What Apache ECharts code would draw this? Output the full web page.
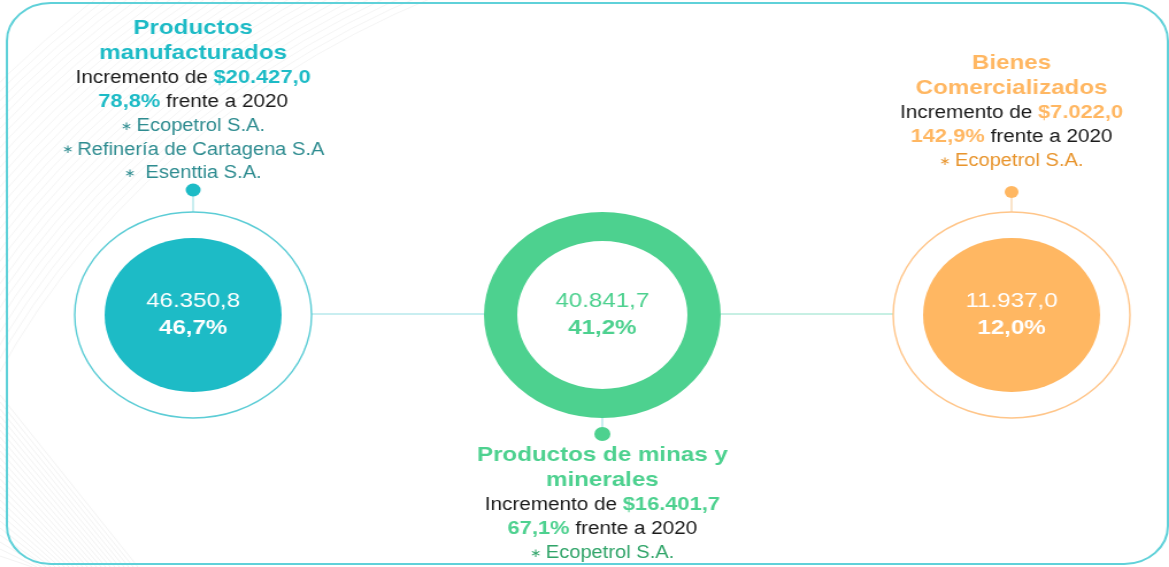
<!DOCTYPE html>
<html>
<head>
<meta charset="utf-8">
<script src="https://cdn.jsdelivr.net/npm/echarts@6/dist/echarts.min.js"></script>
<style>
  html, body { margin: 0; padding: 0; background: #fff; overflow: hidden; }
  #main {
    position: absolute; left: 0; top: 0;
    width: 1017px; height: 567px;
    /* la lámina original viene estirada en horizontal */
    transform: scaleX(1.1495);
    transform-origin: 0 0;
  }
</style>
</head>
<body>
<div id="main"></div>
<script>
// datos
const categories = ['Productos manufacturados', 'Productos de minas y minerales', 'Bienes Comercializados'];
const titleLines = [['Productos', 'manufacturados'], ['Productos de minas y', 'minerales'], ['Bienes', 'Comercializados']];
const values = [46350.8, 40841.7, 11937.0];
const shares = [46.7, 41.2, 12.0];
const increments = [20427.0, 16401.7, 7022.0];
const growth = [78.8, 67.1, 142.9];
const companies = [
  ['Ecopetrol S.A.', 'Refinería de Cartagena S.A', ' Esenttia S.A.'],
  ['Ecopetrol S.A.'],
  ['Ecopetrol S.A.']
];

// estilos / layout
const mainColors = ['#1dbbc6', '#4dd18f', '#ffb762'];
const companyColors = ['#2e8c90', '#2fa468', '#e8942c'];
const outlineColors = ['#5ccdd6', '#4dd18f', '#ffc68a'];
const centersX = [168, 524, 880];
const cy = 315;
const outerR = 103;
const FONT = '"Liberation Sans", Arial, sans-serif';

function fmt(v) {
  const parts = v.toFixed(1).split('.');
  return parts[0].replace(/\B(?=(\d{3})+(?!\d))/g, '.') + ',' + parts[1];
}
function pct(v) {
  return v.toFixed(1).replace('.', ',') + '%';
}

const chart = echarts.init(document.getElementById('main'), null, { width: 1017, height: 567 });

// series: anillo exterior + disco/aro interior
const series = [];
categories.forEach((name, i) => {
  const isRing = i === 1;
  if (!isRing) {
    series.push({
      type: 'pie',
      silent: true,
      center: [centersX[i], cy],
      radius: [0, outerR],
      z: 2,
      label: { show: false },
      labelLine: { show: false },
      itemStyle: { color: '#fff', borderColor: outlineColors[i], borderWidth: 1.4 },
      data: [{ name: name, value: values[i] }]
    });
  }
  series.push({
    type: 'pie',
    silent: true,
    center: [centersX[i], cy],
    radius: isRing ? [74, outerR] : [0, 77],
    z: 3,
    labelLine: { show: false },
    label: {
      show: true,
      position: 'center',
      formatter: () => '{a|' + fmt(values[i]) + '}\n{b|' + pct(shares[i]) + '}',
      rich: {
        a: { fontFamily: FONT, fontSize: 21, lineHeight: 27, color: isRing ? mainColors[1] : '#fff' },
        b: { fontFamily: FONT, fontSize: 21, fontWeight: 'bold', lineHeight: 27, color: isRing ? mainColors[1] : '#fff' }
      }
    },
    itemStyle: { color: mainColors[i] },
    data: [{ name: name, value: values[i] }]
  });
});

// bloques de texto
const blockTops = [15.5, 442.5, 50.5];
function textBlock(i) {
  const lines = [];
  titleLines[i].forEach(t => lines.push('{t|' + t + '}'));
  lines.push('{b|Incremento de }{v|$' + fmt(increments[i]) + '}');
  lines.push('{v|' + pct(growth[i]) + '}{b| frente a 2020}');
  companies[i].forEach(c => lines.push('{s|\u2217 }{c|' + c + '}'));
  return {
    type: 'text',
    x: centersX[i],
    y: blockTops[i],
    z: 100,
    style: {
      text: lines.join('\n'),
      align: 'center',
      verticalAlign: 'top',
      rich: {
        t: { fontFamily: FONT, fontSize: 21, fontWeight: 'bold', lineHeight: 25, fill: mainColors[i] },
        b: { fontFamily: FONT, fontSize: 18, lineHeight: 24.5, fill: '#1a1a1a' },
        v: { fontFamily: FONT, fontSize: 19, fontWeight: 'bold', lineHeight: 24.5, fill: mainColors[i] },
        s: { fontFamily: FONT, fontSize: 12, lineHeight: 23.5, fill: companyColors[i] },
        c: { fontFamily: FONT, fontSize: 17.5, lineHeight: 23.5, fill: companyColors[i] }
      }
    }
  };
}

// decoración de fondo
const deco = [];
for (let k = 0; k < 28; k++) {
  deco.push({
    type: 'arc', z: -10, silent: true,
    shape: { cx: 720, cy: 720, r: 800 + k * 6, startAngle: Math.PI, endAngle: Math.PI * 1.5 },
    style: { stroke: 'rgba(0,0,0,0.045)', fill: null, lineWidth: 1 }
  });
}
for (let k = 0; k < 24; k++) {
  deco.push({
    type: 'line', z: -10, silent: true,
    shape: { x1: 0, y1: 395 + k * 7, x2: 120 - k * 4, y2: 567 },
    style: { stroke: 'rgba(0,0,0,0.05)', lineWidth: 1 }
  });
}

const lineColor = '#93dde2';
const graphics = deco.concat([
  {
    type: 'rect', z: 1, silent: true,
    shape: { x: 6, y: 3, width: 1010, height: 561, r: 38 },
    style: { fill: null, stroke: '#5fd1d9', lineWidth: 2 }
  },
  // conectores horizontales
  { type: 'line', z: 1, shape: { x1: centersX[0] + outerR, y1: cy - 1, x2: centersX[1] - outerR, y2: cy - 1 }, style: { stroke: lineColor, lineWidth: 1 } },
  { type: 'line', z: 1, shape: { x1: centersX[1] + outerR, y1: cy - 1, x2: centersX[2] - outerR, y2: cy - 1 }, style: { stroke: '#8fe0c8', lineWidth: 1 } },
  // tallos y puntos
  { type: 'line', z: 1, shape: { x1: centersX[0], y1: 190, x2: centersX[0], y2: cy - outerR }, style: { stroke: lineColor, lineWidth: 1 } },
  { type: 'line', z: 1, shape: { x1: centersX[2], y1: 192, x2: centersX[2], y2: cy - outerR }, style: { stroke: '#f5c996', lineWidth: 1 } },
  { type: 'line', z: 1, shape: { x1: centersX[1], y1: cy + outerR, x2: centersX[1], y2: 434 }, style: { stroke: lineColor, lineWidth: 1 } },
  { type: 'circle', z: 5, shape: { cx: centersX[0], cy: 190, r: 6.5 }, style: { fill: mainColors[0] } },
  { type: 'circle', z: 5, shape: { cx: centersX[2], cy: 192, r: 6 }, style: { fill: mainColors[2] } },
  { type: 'circle', z: 5, shape: { cx: centersX[1], cy: 434, r: 7 }, style: { fill: mainColors[1] } },
  textBlock(0), textBlock(1), textBlock(2)
]);

chart.setOption({
  animation: false,
  backgroundColor: '#fff',
  graphic: { elements: graphics },
  series: series
});
</script>
</body>
</html>
